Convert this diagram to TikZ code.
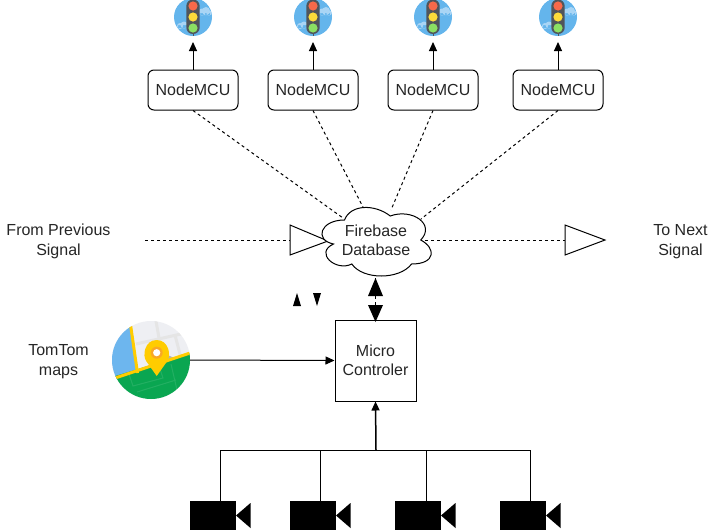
\documentclass[tikz,border=0pt]{standalone}
\usepackage{fontspec}
\setmainfont{Liberation Sans}
\usetikzlibrary{arrows.meta}
\definecolor{ink}{HTML}{000000}
\definecolor{skyb}{HTML}{64B5EC}
\definecolor{cloudw}{HTML}{A9D5F5}
\definecolor{poleg}{HTML}{50555B}
\definecolor{lred}{HTML}{F8694A}
\definecolor{lyel}{HTML}{FDDC3A}
\definecolor{lgrn}{HTML}{8BE063}
\definecolor{mapbg}{HTML}{EEEFF3}
\definecolor{mapgrn}{HTML}{0AA651}
\definecolor{mapblu}{HTML}{6DB6EE}
\definecolor{pinyel}{HTML}{FFCC00}
\definecolor{pinorg}{HTML}{F9A825}
\tikzset{
  x=1pt,y=-1pt,
  every node/.style={font=\fontsize{16}{19.5}\selectfont,text=black!85,align=center,inner sep=0pt},
  line/.style={line width=1pt,draw=ink},
  conn/.style={line,-{Triangle[width=8pt,length=9pt]}},
  dashline/.style={line,dash pattern=on 3pt off 3pt},
  mcu/.style={line,rounded corners=6pt,minimum width=90pt,minimum height=40pt,fill=white},
  ctrl/.style={line,minimum width=81pt,minimum height=81pt,fill=white},
  lbl/.style={},
  camerabody/.style={fill=black,minimum width=46pt,minimum height=29.5pt},
  tri/.style={line,fill=white},
  blk/.style={fill=black},
  trafficlight/.pic={
    \fill[skyb] (0,0) circle (19);
    \fill[cloudw] (9,-5) circle (3.5) (13,-6) circle (4) (16,-4) circle (2.5) (7,-4) rectangle (17,-2);
    \fill[cloudw] (-13,9) circle (3) (-9,8) circle (3.5) (-15,8) rectangle (-6,11);
    \fill[poleg,rounded corners=6.5] (-6.7,-17.5) rectangle (6.7,17);
    \draw[line width=1pt,poleg] (0,16) -- (0,19);
    \fill[lred] (0,-11) circle (4.6);
    \fill[lyel] (0,0) circle (4.6);
    \fill[lgrn] (0,11) circle (4.6);
  },
  mappin/.pic={
    \begin{scope}
      \clip (0,0) circle (39);
      \fill[mapbg] (-39,-39) rectangle (39,39);
      \draw[black!10,line width=3pt] (-15,-16) -- (30,-26);
      \draw[black!10,line width=3pt] (5,-39) -- (8,-22);
      \draw[black!10,line width=3pt] (24,-25) -- (30,-2);
      \fill[mapblu] (-39,-39) -- (-21,-39) -- (-14,13) -- (-39,20) -- cycle;
      \fill[black!30] (8,-8) -- (24,-2) -- (24,8) -- (6,14) -- cycle;
      \fill[mapgrn] (-39,17) -- (39,-7) -- (39,39) -- (-39,39) -- cycle;
      \draw[white,opacity=.1,line width=1pt] (-22,14) -- (-18,26) -- (12,18) -- (8,6) (-14,32) -- (25,20) (20,4) -- (26,30);
      \draw[pinyel,line width=3pt] (-39,19) -- (39,-7);
      \draw[pinyel,line width=3pt] (-21,-39) -- (-13.5,13);
    \end{scope}
    \fill[pinyel] (5.7,16) -- (-4.5,1.5) .. controls (-9,-4) and (-6.5,-20) .. (5.7,-20) .. controls (18,-20) and (20.5,-4) .. (16,1.5) -- cycle;
    \fill[pinorg] (5.7,-7.3) circle (6);
    \fill[white] (5.7,-7.3) circle (3.6);
  },
}
\begin{document}
\begin{tikzpicture}
\useasboundingbox (0,0) rectangle (713,531);

% traffic lights
\foreach \n/\cx in {1/193,2/313,3/433,4/558}{
  \pic at (\cx,17) {trafficlight};
  \coordinate (t\n) at (\cx,42);
  \node[mcu] (m\n) at (\cx,90) {NodeMCU};
  \draw[conn] (m\n.north) -- (t\n);
}

% cloud
\coordinate (fbend1) at (343,218);
\coordinate (fbend2) at (363,207);
\coordinate (fbend3) at (391,210);
\coordinate (fbend4) at (421,219);
\coordinate (fbr) at (425,240);
\coordinate (fbb) at (375.5,278);
\coordinate (fbl) at (290,240);
\coordinate (rtl) at (565,240);
\coordinate (lfs) at (145,240);

\draw[dashline] (m1.south) -- (fbend1);
\draw[dashline] (m2.south) -- (fbend2);
\draw[dashline] (m3.south) -- (fbend3);
\draw[dashline] (m4.south) -- (fbend4);
\draw[dashline] (lfs) -- (fbl);
\draw[dashline] (fbr) -- (rtl);

\draw[tri] (290,225) -- (328,241) -- (290,255) -- cycle;
\draw[tri] (565,225) -- (605,240) -- (565,255) -- cycle;

\begin{scope}[shift={(314,200)},x=1.22pt,y=-.8pt]
\draw[line,fill=white] (25,25) .. controls (5,25) and (0,50) .. (16,55)
 .. controls (0,66) and (18,90) .. (31,80)
 .. controls (40,100) and (70,100) .. (80,80)
 .. controls (100,80) and (100,60) .. (87.5,50)
 .. controls (100,30) and (80,10) .. (62.5,20)
 .. controls (50,5) and (30,5) .. (25,25) -- cycle;
\end{scope}
\node (fb) at (376,240.5) {Firebase\\Database};

% labels
\node[lbl] (prev) at (58.5,241.5) {From Previous\\Signal};
\node[lbl] (next) at (680.5,241.5) {To Next\\Signal};
\node[lbl] (tom) at (58.5,361.5) {TomTom\\maps};

% small triangles
\fill[blk] (293,306) -- (297,293) -- (301,306) -- cycle;
\fill[blk] (313,293) -- (321,293) -- (317,306) -- cycle;

% controller
\node[ctrl] (mc) at (375.5,360.5) {Micro\\Controler};
\draw[dashline] (fbb) -- (mc.north);
\fill[blk] (368,296) -- (375.5,278) -- (383,296) -- cycle;
\fill[blk] (368,305) -- (383,305) -- (375.5,322) -- cycle;

% map
\pic at (151,360) {mappin};
\coordinate (mapr) at (190,360);
\draw[conn] (mapr) -- (mc.west);

% cameras
\coordinate (bus) at (376,450);
\draw[line] (220,450) -- (530,450);
\draw[conn,line width=1.5pt] (bus) -- (mc.south);
\foreach \n/\bx/\vx in {1/190/220,2/290/320,3/395/426,4/500/530}{
  \node[camerabody,anchor=north west] (c\n) at (\bx,500.5) {};
  \fill[blk] (\bx+46,515.5) -- (\bx+60.5,503) -- (\bx+60.5,528) -- cycle;
  \coordinate (d\n) at (\vx,450);
  \draw[line] (d\n) -- (d\n |- c\n.north);
}
\end{tikzpicture}
\end{document}
